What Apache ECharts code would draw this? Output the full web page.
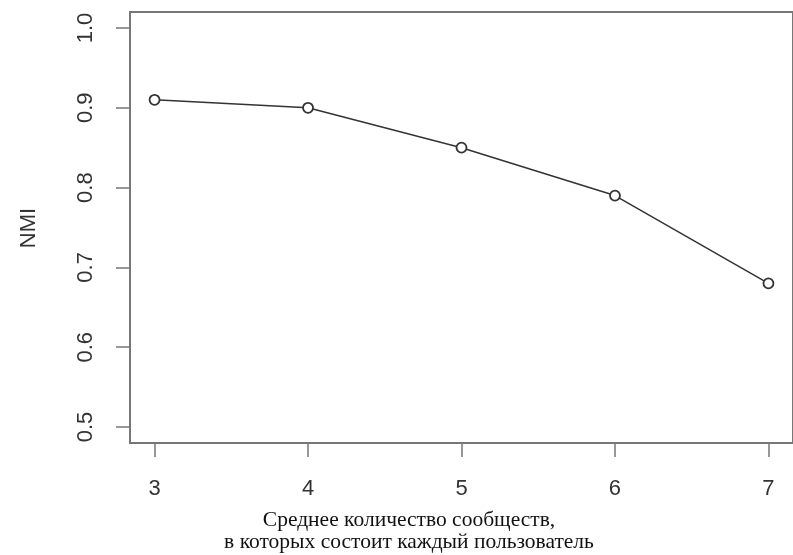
<!DOCTYPE html>
<html>
<head>
<meta charset="utf-8">
<script src="https://cdn.jsdelivr.net/npm/echarts@6/dist/echarts.min.js"></script>
<style>
html,body{margin:0;padding:0;background:#fff;}
#chart{width:793px;height:555px;}
</style>
</head>
<body>
<div id="chart"></div>
<script>
var xValues = [3, 4, 5, 6, 7];
var nmiValues = [0.91, 0.90, 0.85, 0.79, 0.68];
var xTicks = [3, 4, 5, 6, 7];
var yTicks = [0.5, 0.6, 0.7, 0.8, 0.9, 1.0];
var yTitle = 'NMI';
var xTitle = 'Среднее количество сообществ,\nв которых состоит каждый пользователь';

var chart = echarts.init(document.getElementById('chart'), null, {renderer: 'canvas'});
var sans = '"Liberation Sans", Arial, sans-serif';
var serif = '"Liberation Serif", "Times New Roman", serif';

chart.setOption({
  animation: false,
  backgroundColor: '#ffffff',
  grid: {
    left: 130, top: 12, width: 676, height: 431,
    show: true, borderColor: '#777', borderWidth: 2, backgroundColor: 'transparent'
  },
  xAxis: {
    type: 'value',
    min: 2.84, max: 7.16,
    axisLine: {show: false},
    splitLine: {show: false},
    axisTick: {show: true, inside: false, length: 14, customValues: xTicks,
      lineStyle: {color: '#777', width: 1.5}},
    axisLabel: {customValues: xTicks, margin: 35, fontFamily: sans, fontSize: 22, color: '#333',
      formatter: function (v) { return String(v); }}
  },
  yAxis: {
    type: 'value',
    min: 0.48, max: 1.02,
    axisLine: {show: false},
    splitLine: {show: false},
    axisTick: {show: true, inside: false, length: 14, customValues: yTicks,
      lineStyle: {color: '#777', width: 1.5}},
    axisLabel: {customValues: yTicks, rotate: 90, margin: 33, fontFamily: sans, fontSize: 22, color: '#333',
      formatter: function (v) { return v.toFixed(1); }}
  },
  series: [{
    type: 'line',
    data: xValues.map(function (x, i) { return [x, nmiValues[i]]; }),
    symbol: 'circle',
    symbolSize: 10,
    showAllSymbol: true,
    lineStyle: {color: '#333', width: 1.5},
    itemStyle: {color: '#fff', borderColor: '#333', borderWidth: 1.8},
    emphasis: {disabled: true}
  }],
  graphic: [
    {
      type: 'text', x: 29, y: 228, rotation: Math.PI / 2,
      style: {text: yTitle, font: '22px ' + sans, fill: '#333', align: 'center', verticalAlign: 'middle'}
    },
    {
      type: 'text', x: 409, y: 531,
      style: {text: xTitle, font: '21.5px ' + serif, fill: '#111', align: 'center', verticalAlign: 'middle', lineHeight: 22}
    }
  ]
});
</script>
</body>
</html>
